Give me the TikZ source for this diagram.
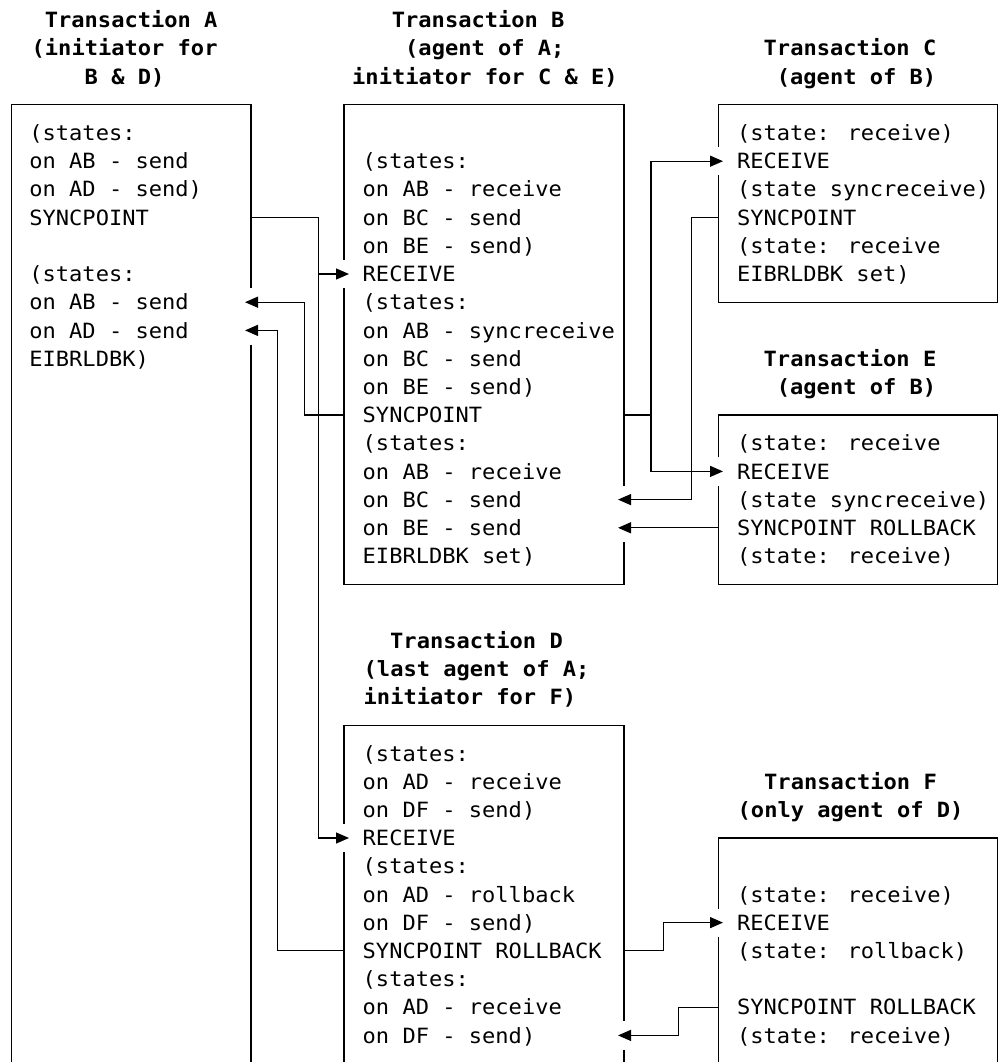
\documentclass[tikz,border=0pt]{standalone}
\usepackage{fontspec}
\newfontfamily\dmono[FakeStretch=1.05]{DejaVu Sans Mono}
\usetikzlibrary{arrows.meta}
\begin{document}
\begin{tikzpicture}[x=1pt,y=-28.2pt,line join=miter,
  box/.style={draw=black,line width=1.3pt},
  conn/.style={draw=black,line width=1.3pt,-{Triangle[length=13pt,width=11pt]}},
  txt/.style={font=\dmono\fontsize{21pt}{28.2pt}\selectfont,anchor=base west,inner sep=0pt,yshift=-7.6pt},
  ttl/.style={txt,font=\dmono\bfseries\fontsize{21pt}{28.2pt}\selectfont}]
\useasboundingbox (0,-4.716) rectangle (999,32.943);
\fill[white] (0,-4.716) rectangle (999,32.943);
\clip (0,-4.716) rectangle (999,32.943);

% ---------- titles ----------
\node[ttl] (tA1) at (44.7,-4) {Transaction A};
\node[ttl] (tA2) at (31.5,-3) {(initiator for};
\node[ttl] (tA3) at (84.5,-2) {B \& D)};
\node[ttl] (tB1) at (391.7,-4) {Transaction B};
\node[ttl] (tB2) at (405,-3) {(agent of A;};
\node[ttl] (tB3) at (352,-2) {initiator for C \& E)};
\node[ttl] (tC1) at (763.5,-3) {Transaction C};
\node[ttl] (tC2) at (776.7,-2) {(agent of B)};
\node[ttl] (tD1) at (390,18) {Transaction D};
\node[ttl] (tD2) at (363.5,19) {(last agent of A;};
\node[ttl] (tD3) at (363.5,20) {initiator for F)};
\node[ttl] (tE1) at (763.5,8) {Transaction E};
\node[ttl] (tE2) at (776.7,9) {(agent of B)};
\node[ttl] (tF1) at (764,23) {Transaction F};
\node[ttl] (tF2) at (737.5,24) {(only agent of D)};

% ---------- box texts ----------
\foreach \rw/\tx [count=\i] in {0/{(states:},1/{on AB - send},2/{on AD - send)},3/{SYNCPOINT},
  5/{(states:},6/{on AB - send},7/{on AD - send},8/{EIBRLDBK)}}
  \node[txt] (A-\i) at (29.2,\rw) {\tx};
\foreach \rw/\tx [count=\i] in {1/{(states:},2/{on AB - receive},3/{on BC - send},4/{on BE - send)},
  5/{RECEIVE},6/{(states:},7/{on AB - syncreceive},8/{on BC - send},9/{on BE - send)},
  10/{SYNCPOINT},11/{(states:},12/{on AB - receive},13/{on BC - send},14/{on BE - send},15/{EIBRLDBK set)}}
  \node[txt] (B-\i) at (362.5,\rw) {\tx};
\foreach \rw/\tx [count=\i] in {0/{(state: receive)},1/{RECEIVE},2/{(state syncreceive)},3/{SYNCPOINT},
  4/{(state: receive},5/{EIBRLDBK set)}}
  \node[txt] (C-\i) at (736.8,\rw) {\tx};
\foreach \rw/\tx [count=\i] in {11/{(state: receive},12/{RECEIVE},13/{(state syncreceive)},
  14/{SYNCPOINT ROLLBACK},15/{(state: receive)}}
  \node[txt] (E-\i) at (736.8,\rw) {\tx};
\foreach \rw/\tx [count=\i] in {22/{(states:},23/{on AD - receive},24/{on DF - send)},25/{RECEIVE},
  26/{(states:},27/{on AD - rollback},28/{on DF - send)},29/{SYNCPOINT ROLLBACK},
  30/{(states:},31/{on AD - receive},32/{on DF - send)}}
  \node[txt] (D-\i) at (362.5,\rw) {\tx};
\foreach \rw/\tx [count=\i] in {27/{(state: receive)},28/{RECEIVE},29/{(state: rollback)},
  31/{SYNCPOINT ROLLBACK},32/{(state: receive)}}
  \node[txt] (F-\i) at (736.8,\rw) {\tx};

% ---------- boxes (with gaps where arrows enter) ----------
\draw[box] (11.7,33.5) -- (11.7,-1) -- (251,-1) -- (251,5.5);
\draw[box] (251,7.5) -- (251,33.5);
\draw[box] (344,4.5) -- (344,-1) -- (624,-1) -- (624,12.5);
\draw[box] (624,14.5) -- (624,16) -- (344,16) -- (344,5.5);
\draw[box] (718.3,0.5) -- (718.3,-1) -- (997.7,-1) -- (997.7,6) -- (718.3,6) -- (718.3,1.5);
\draw[box] (718.3,11.5) -- (718.3,10) -- (997.7,10) -- (997.7,16) -- (718.3,16) -- (718.3,12.5);
\draw[box] (344,24.5) -- (344,21) -- (624,21) -- (624,31.5);
\draw[box] (624,32.5) -- (624,33.5);
\draw[box] (344,25.5) -- (344,33.5);
\draw[box] (718.3,27.5) -- (718.3,25) -- (997.7,25) -- (997.7,33.5);
\draw[box] (718.3,28.5) -- (718.3,33.5);

% ---------- connector end points ----------
\coordinate (A-sp) at (251,3);
\coordinate (A-ab) at (245,6);
\coordinate (A-ad) at (245,7);
\coordinate (B-rcv) at (349,5);
\coordinate (B-spL) at (344,10);
\coordinate (B-spR) at (624,10);
\coordinate (B-bc) at (618,13);
\coordinate (B-be) at (618,14);
\coordinate (C-rcv) at (723,1);
\coordinate (C-sp) at (718.3,3);
\coordinate (E-rcv) at (723,12);
\coordinate (E-rb) at (718.3,14);
\coordinate (D-rcv) at (349,25);
\coordinate (D-rbL) at (344,29);
\coordinate (D-rbR) at (624,29);
\coordinate (D-df) at (618,32);
\coordinate (F-rcv) at (723,28);
\coordinate (F-rb) at (718.3,31);
% vertical runs
\coordinate (busA) at (318.3,0);
\coordinate (busB) at (304.3,0);
\coordinate (busD) at (277.7,0);
\coordinate (busC) at (651,0);
\coordinate (busE) at (691.7,0);
\coordinate (busF) at (663.3,0);
\coordinate (busG) at (678.3,0);

% ---------- connectors ----------
\draw[conn] (A-sp) -| (busA |- D-rcv) -- (D-rcv);
\draw[conn] (busA |- B-rcv) -- (B-rcv);
\draw[conn] (B-spL) -| (busB |- A-ab) -- (A-ab);
\draw[conn] (D-rbL) -| (busD |- A-ad) -- (A-ad);
\draw[conn] (B-spR) -| (busC |- C-rcv) -- (C-rcv);
\draw[conn] (busC |- B-spR) |- (E-rcv);
\draw[conn] (C-sp) -| (busE |- B-bc) -- (B-bc);
\draw[conn] (E-rb) -- (B-be);
\draw[conn] (D-rbR) -| (busF |- F-rcv) -- (F-rcv);
\draw[conn] (F-rb) -| (busG |- D-df) -- (D-df);
\end{tikzpicture}
\end{document}
